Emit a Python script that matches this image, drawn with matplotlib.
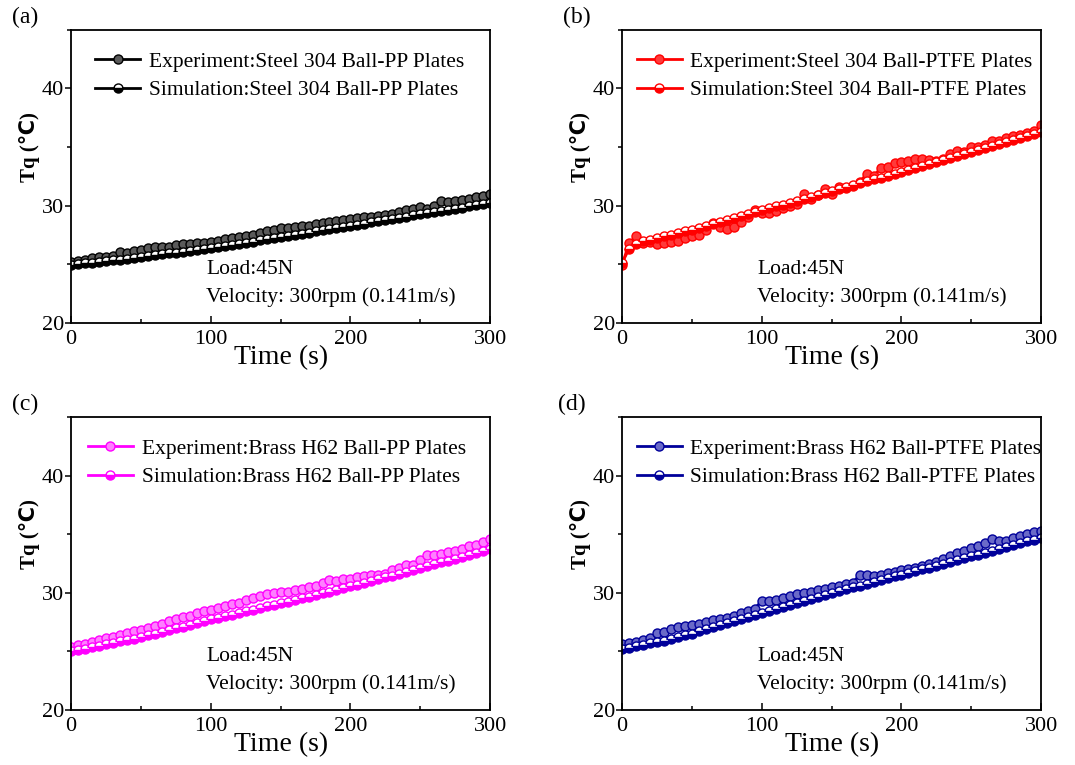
import numpy as np
import matplotlib
matplotlib.use('Agg')
import matplotlib.pyplot as plt
from matplotlib.ticker import MultipleLocator

plt.rcParams['font.family'] = ['Liberation Serif', 'DejaVu Sans']
plt.rcParams['mathtext.fontset'] = 'stix'

# time axis (s), one reading every 5 s
time = np.arange(0, 301, 5)

# (a) Steel 304 ball - PP plates
exp_a = [25.2, 25.3, 25.4, 25.5, 25.65, 25.6, 25.7, 26.05, 26.0, 26.15,
         26.2, 26.35, 26.45, 26.45, 26.5, 26.6, 26.7, 26.75, 26.85, 26.85,
         26.9, 27.0, 27.15, 27.2, 27.3, 27.4, 27.5, 27.65, 27.8, 27.95,
         28.1, 28.1, 28.2, 28.25, 28.3, 28.4, 28.5, 28.6, 28.7, 28.8,
         28.9, 28.95, 29.0, 29.05, 29.1, 29.2, 29.3, 29.45, 29.6, 29.75,
         29.9, 29.75, 29.95, 30.4, 30.3, 30.4, 30.5, 30.6, 30.7, 30.8,
         30.95]
sim_a = [24.95, 25.0, 25.07, 25.13, 25.2, 25.26, 25.33, 25.4, 25.47, 25.55,
         25.62, 25.7, 25.77, 25.85, 25.92, 26.0, 26.07, 26.15, 26.22, 26.3,
         26.37, 26.46, 26.55, 26.65, 26.74, 26.84, 26.93, 27.03, 27.12, 27.22,
         27.31, 27.41, 27.5, 27.6, 27.7, 27.8, 27.89, 27.99, 28.08, 28.18,
         28.28, 28.38, 28.47, 28.57, 28.67, 28.77, 28.86, 28.96, 29.06, 29.16,
         29.25, 29.35, 29.45, 29.55, 29.65, 29.75, 29.84, 29.94, 30.04, 30.14,
         30.24]

# (b) Steel 304 ball - PTFE plates
exp_b = [24.9, 26.8, 27.4, 26.8, 26.9, 26.75, 26.8, 26.9, 27.0, 27.2,
         27.4, 27.5, 27.95, 28.5, 28.2, 28.0, 28.2, 28.6, 29.0, 29.6,
         29.35, 29.4, 29.5, 29.8, 30.0, 30.1, 31.0, 30.6, 30.9, 31.4,
         31.0, 31.6, 31.5, 31.7, 32.0, 32.7, 32.5, 33.2, 33.3, 33.6,
         33.7, 33.8, 34.0, 33.95, 33.9, 33.8, 33.95, 34.4, 34.7, 34.6,
         35.0, 35.0, 35.2, 35.5, 35.5, 35.8, 35.9, 36.0, 36.2, 36.4,
         36.9]
sim_b = [25.1, 26.3, 26.75, 26.95, 27.1, 27.24, 27.38, 27.52, 27.66, 27.8,
         27.95, 28.11, 28.28, 28.44, 28.61, 28.77, 28.94, 29.1, 29.27, 29.43,
         29.6, 29.76, 29.93, 30.09, 30.26, 30.42, 30.59, 30.75, 30.92, 31.08,
         31.25, 31.41, 31.58, 31.74, 31.91, 32.07, 32.24, 32.4, 32.57, 32.73,
         32.9, 33.07, 33.24, 33.41, 33.58, 33.75, 33.92, 34.09, 34.26, 34.43,
         34.6, 34.77, 34.94, 35.11, 35.28, 35.45, 35.62, 35.79, 35.96, 36.13,
         36.3]

# (c) Brass H62 ball - PP plates
exp_c = [25.35, 25.5, 25.65, 25.8, 25.95, 26.1, 26.25, 26.4, 26.55, 26.7,
         26.85, 27.0, 27.15, 27.3, 27.55, 27.75, 27.9, 28.05, 28.25, 28.4,
         28.55, 28.7, 28.85, 29.0, 29.15, 29.35, 29.55, 29.7, 29.85, 29.95,
         30.05, 30.1, 30.2, 30.35, 30.5, 30.6, 30.85, 31.1, 31.0, 31.15,
         31.2, 31.3, 31.45, 31.55, 31.5, 31.6, 31.9, 32.15, 32.35, 32.4,
         32.8, 33.2, 33.2, 33.3, 33.45, 33.6, 33.7, 33.95, 34.1, 34.3,
         34.55]
sim_c = [25.0, 25.12, 25.24, 25.36, 25.48, 25.6, 25.72, 25.84, 25.96, 26.08,
         26.22, 26.36, 26.5, 26.65, 26.8, 26.95, 27.1, 27.26, 27.42, 27.58,
         27.72, 27.86, 28.0, 28.13, 28.27, 28.41, 28.55, 28.69, 28.83, 28.97,
         29.11, 29.25, 29.39, 29.53, 29.67, 29.81, 29.95, 30.1, 30.25, 30.4,
         30.55, 30.7, 30.85, 31.0, 31.15, 31.3, 31.46, 31.62, 31.78, 31.94,
         32.1, 32.26, 32.42, 32.58, 32.74, 32.9, 33.06, 33.22, 33.38, 33.54,
         33.7]

# (d) Brass H62 ball - PTFE plates
exp_d = [25.6, 25.7, 25.8, 25.95, 26.1, 26.6, 26.65, 26.9, 27.05, 27.2,
         27.25, 27.35, 27.5, 27.7, 27.8, 27.85, 28.0, 28.25, 28.45, 28.65,
         29.3, 29.3, 29.4, 29.55, 29.7, 29.85, 30.0, 30.1, 30.2, 30.35,
         30.45, 30.6, 30.75, 30.85, 31.5, 31.55, 31.45, 31.5, 31.65, 31.8,
         31.9, 32.05, 32.15, 32.3, 32.45, 32.6, 32.85, 33.1, 33.35, 33.6,
         33.8, 34.0, 34.2, 34.55, 34.4, 34.45, 34.65, 34.85, 35.0, 35.15,
         35.3]
sim_d = [25.2, 25.32, 25.44, 25.56, 25.68, 25.8, 25.92, 26.04, 26.18, 26.35,
         26.52, 26.7, 26.88, 27.06, 27.24, 27.42, 27.6, 27.78, 27.96, 28.1,
         28.27, 28.44, 28.61, 28.78, 28.95, 29.12, 29.29, 29.46, 29.63, 29.8,
         29.97, 30.13, 30.29, 30.45, 30.61, 30.77, 30.93, 31.09, 31.25, 31.4,
         31.55, 31.7, 31.85, 32.0, 32.15, 32.3, 32.46, 32.62, 32.78, 32.94,
         33.1, 33.26, 33.42, 33.58, 33.74, 33.9, 34.06, 34.22, 34.38, 34.54,
         34.7]

panels = ['(a)', '(b)', '(c)', '(d)']
pairs = ['Steel 304 Ball-PP Plates', 'Steel 304 Ball-PTFE Plates',
         'Brass H62 Ball-PP Plates', 'Brass H62 Ball-PTFE Plates']
exps = [exp_a, exp_b, exp_c, exp_d]
sims = [sim_a, sim_b, sim_c, sim_d]
colors = ['#000000', '#ff0000', '#ff00ff', '#00009a']
lights = ['#5a5a5a', '#ff3a3a', '#ff80ff', '#6a6ac8']

fig = plt.figure(figsize=(10.75, 7.65), dpi=100)
boxes = [[0.066, 0.578, 0.39, 0.383], [0.5786, 0.578, 0.39, 0.383],
         [0.066, 0.072, 0.39, 0.383], [0.5786, 0.072, 0.39, 0.383]]
letter_pos = [(0.011, 0.977), (0.524, 0.977), (0.011, 0.471), (0.519, 0.471)]
legend_x = [0.058, 0.035, 0.04, 0.035]

for i in range(4):
    ax = fig.add_axes(boxes[i])
    c = colors[i]
    ax.plot(time, exps[i], '-o', color=c, lw=2, ms=6.5,
            mfc=lights[i], mec=c, mew=1.0,
            label='Experiment:' + pairs[i])
    ax.plot(time, sims[i], '-o', color=c, lw=2, ms=6.5,
            fillstyle='bottom', mfc=c, mfcalt='white', mec=c, mew=1.0,
            label='Simulation:' + pairs[i])
    ax.set_xlim(0, 300)
    ax.set_ylim(20, 45)
    ax.xaxis.set_major_locator(MultipleLocator(100))
    ax.xaxis.set_minor_locator(MultipleLocator(50))
    ax.yaxis.set_major_locator(MultipleLocator(10))
    ax.yaxis.set_minor_locator(MultipleLocator(5))
    ax.tick_params(axis='x', which='both', direction='in', labelsize=16, pad=5)
    ax.tick_params(axis='x', which='major', length=5, width=1.1)
    ax.tick_params(axis='x', which='minor', length=3, width=1.1)
    ax.tick_params(axis='y', which='both', direction='out', labelsize=16, pad=1)
    ax.tick_params(axis='y', which='major', length=4, width=1.1)
    ax.tick_params(axis='y', which='minor', length=3, width=1.1)
    for s in ax.spines.values():
        s.set_linewidth(1.3)
    ax.set_xlabel('Time (s)', fontsize=20, labelpad=-3)
    ax.set_ylabel('Tq (℃)', fontsize=15, fontweight='bold')
    ax.yaxis.set_label_coords(-0.075, 0.6)
    ax.text(0.322, 0.181, 'Load:45N', transform=ax.transAxes,
            fontsize=15.5, va='center')
    ax.text(0.322, 0.089, 'Velocity: 300rpm (0.141m/s)', transform=ax.transAxes,
            fontsize=15.5, va='center')
    ax.legend(loc='upper left', frameon=False, fontsize=15.5,
              handlelength=2.1, handletextpad=0.4, labelspacing=0.38,
              bbox_to_anchor=(legend_x[i], 0.925), borderaxespad=0, borderpad=0)
    fig.text(letter_pos[i][0], letter_pos[i][1], panels[i],
             fontsize=17, va='center')

plt.savefig('out.png', dpi=100)
